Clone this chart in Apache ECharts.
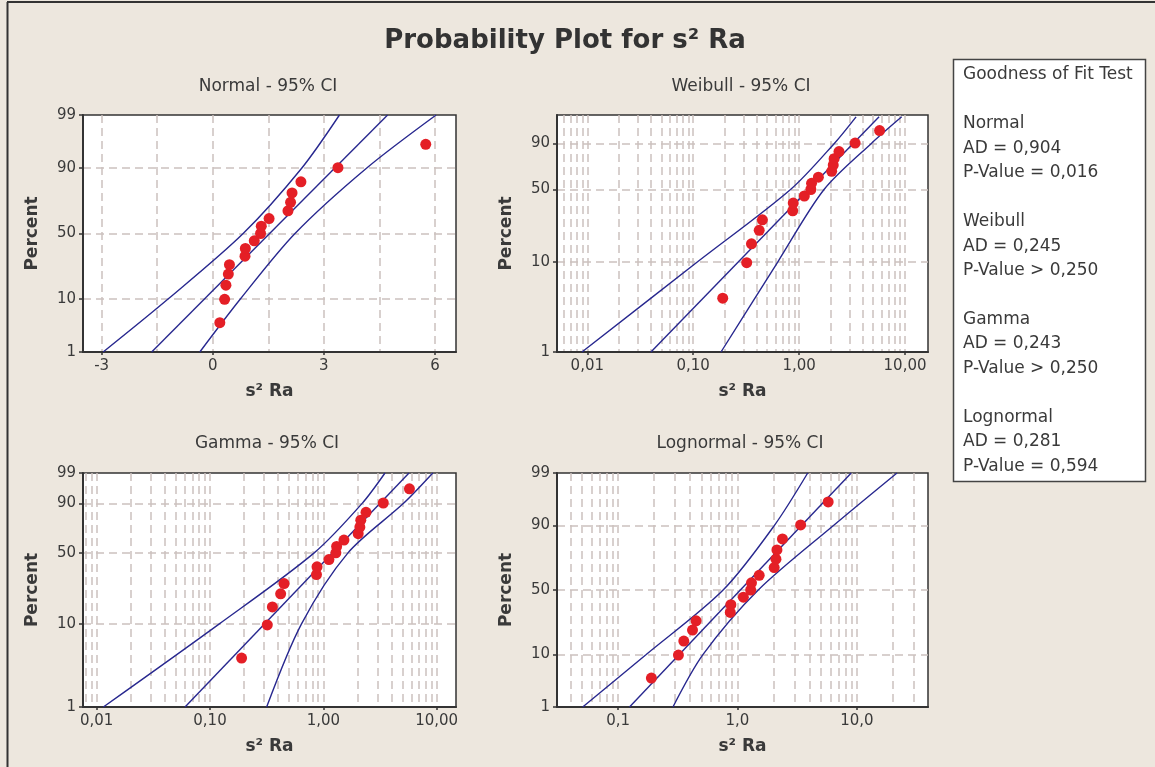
<!DOCTYPE html>
<html>
<head>
<meta charset="utf-8">
<script src="https://cdn.jsdelivr.net/npm/echarts@6/dist/echarts.min.js"></script>
<style>
  html, body { margin: 0; padding: 0; background: #ede7de; }
  #chart { width: 1155px; height: 767px; }
</style>
</head>
<body>
<div id="chart"></div>
<script>
// s² Ra observations (sorted) and the percent they are plotted at
const s2Ra = [0.19, 0.32, 0.355, 0.42, 0.45, 0.87, 0.88, 1.12, 1.29, 1.31, 1.52, 2.03, 2.10, 2.14, 2.38, 3.38, 5.75];
const pctPoints = [4.0, 9.8, 15.5, 21.3, 27.0, 32.8, 38.5, 44.3, 50.0, 55.7, 61.5, 67.2, 73.0, 78.7, 84.5, 90.2, 96.0];

// fitted line (at fitPct) and 95% CI bands (at ciPct)
const fitPct = [1, 99];
const ciPct = [1, 10, 50, 90, 99];

const normalFit = [-1.65, 4.72];
const normalUpper = [-2.96, -1.20, 0.82, 2.40, 3.42];
const normalLower = [-0.35, 0.75, 2.22, 4.15, 6.03];

const weibullFit = [0.0399, 5.69];
const weibullUpper = [0.0089, 0.11, 0.83, 2.15, 3.45];
const weibullLower = [0.183, 0.63, 1.72, 4.81, 9.3];

const gammaFit = [0.0602, 5.7];
const gammaUpper = [0.01145, 0.12, 0.83, 2.2, 3.5];
const gammaLower = [0.316, 0.64, 1.65, 5.1, 9.24];

const lognormalFit = [0.1246, 8.97];
const lognormalUpper = [0.0505, 0.172, 0.758, 2.034, 3.875];
const lognormalLower = [0.288, 0.515, 1.493, 6.37, 21.7];

// tick labels
const normalXTicks = [-3, 0, 3, 6];
const normalXTickText = ['-3', '0', '3', '6'];
const normalXGrid = [-3, -1.5, 0, 1.5, 3, 4.5, 6];
const logXTicks = [0.01, 0.1, 1, 10];
const logXTickText = ['0,01', '0,10', '1,00', '10,00'];
const lognormalXTicks = [0.1, 1, 10];
const lognormalXTickText = ['0,1', '1,0', '10,0'];
const yTicks = [1, 10, 50, 90, 99];
const weibullYTicks = [1, 10, 50, 90];
const yGrid = [10, 50, 90];

const gofText = [
  'Goodness of Fit Test', '',
  'Normal', 'AD = 0,904', 'P-Value = 0,016', '',
  'Weibull', 'AD = 0,245', 'P-Value > 0,250', '',
  'Gamma', 'AD = 0,243', 'P-Value > 0,250', '',
  'Lognormal', 'AD = 0,281', 'P-Value = 0,594'
];

// probability scales
function erf(x) {
  const s = x < 0 ? -1 : 1;
  x = Math.abs(x);
  const t = 1 / (1 + 0.3275911 * x);
  const y = 1 - (((((1.061405429 * t - 1.453152027) * t) + 1.421413741) * t - 0.284496736) * t + 0.254829592) * t * Math.exp(-x * x);
  return s * y;
}
function invert(cdf, lo, hi, target) {
  for (let i = 0; i < 200; i++) {
    const mid = (lo + hi) / 2;
    if (cdf(mid) < target) lo = mid; else hi = mid;
  }
  return (lo + hi) / 2;
}
const normCdf = z => 0.5 * (1 + erf(z / Math.SQRT2));
// gamma cdf, shape 1.5
const gammaCdf = x => erf(Math.sqrt(x)) - 2 * Math.sqrt(x / Math.PI) * Math.exp(-x);
const probNormal = p => invert(normCdf, -10, 10, p / 100);
const probWeibull = p => Math.log(-Math.log(1 - p / 100));
const probGamma = p => Math.log(invert(gammaCdf, 1e-9, 100, p / 100));

function logGrid(lo, hi) {
  const out = [];
  for (let d = -4; d <= 3; d++) {
    for (let k = 1; k <= 9; k++) {
      const v = k * Math.pow(10, d);
      if (v > lo && v < hi) out.push(v);
    }
  }
  return out;
}

const panels = [
  { title: 'Normal - 95% CI', box: { left: 83, top: 115, width: 373, height: 237 }, titlePos: [268, 87],
    log: false, prob: probNormal, xRange: [-3.504, 6.567], yTop: 99,
    xTicks: normalXTicks, xText: normalXTickText, xGrid: normalXGrid, yTicks: yTicks,
    fit: normalFit, upper: normalUpper, lower: normalLower },
  { title: 'Weibull - 95% CI', box: { left: 557, top: 115, width: 371, height: 237 }, titlePos: [741, 87],
    log: true, prob: probWeibull, xRange: [0.005176, 16.48], yTop: 99.2,
    xTicks: logXTicks, xText: logXTickText, xGrid: logGrid(0.005176, 16.48), yTicks: weibullYTicks,
    fit: weibullFit, upper: weibullUpper, lower: weibullLower },
  { title: 'Gamma - 95% CI', box: { left: 83, top: 473, width: 373, height: 234 }, titlePos: [267, 444],
    log: true, prob: probGamma, xRange: [0.007574, 14.81], yTop: 99,
    xTicks: logXTicks, xText: logXTickText, xGrid: logGrid(0.007574, 14.81), yTicks: yTicks,
    fit: gammaFit, upper: gammaUpper, lower: gammaLower },
  { title: 'Lognormal - 95% CI', box: { left: 557, top: 473, width: 371, height: 234 }, titlePos: [740, 444],
    log: true, prob: probNormal, xRange: [0.03076, 39.45], yTop: 99,
    xTicks: lognormalXTicks, xText: lognormalXTickText, xGrid: logGrid(0.03076, 39.45), yTicks: yTicks,
    fit: lognormalFit, upper: lognormalUpper, lower: lognormalLower }
];

const ink = '#3a3a3a';
const font = 'DejaVu Sans';
const gridLine = { color: '#cbc1bf', width: 1.5, type: [8, 5] };
const lineColor = '#28288f';

const option = {
  animation: false,
  backgroundColor: '#ede7de',
  grid: [], xAxis: [], yAxis: [], series: [], graphic: []
};

function findText(vals, texts, v) {
  for (let k = 0; k < vals.length; k++) {
    if (Math.abs(vals[k] - v) < 1e-6) return texts[k];
  }
  return '';
}

panels.forEach((pn, i) => {
  const tx = pn.log ? Math.log10 : (v => v);
  const ty = pn.prob;
  option.grid.push(Object.assign({ show: true, backgroundColor: '#fff', borderColor: '#333', borderWidth: 1.5 }, pn.box));

  const xMin = tx(pn.xRange[0]), xMax = tx(pn.xRange[1]);
  const yMin = ty(1), yMax = ty(pn.yTop);
  const xLabelVals = pn.xTicks.map(tx);
  const yLabelVals = pn.yTicks.map(ty);

  // main axes: line, ticks, labels, name
  option.xAxis.push({
    gridIndex: i, type: 'value', min: xMin, max: xMax, position: 'bottom',
    name: 's² Ra', nameLocation: 'middle', nameGap: 31,
    nameTextStyle: { fontFamily: font, fontWeight: 'bold', fontSize: 17, color: ink },
    axisLine: { onZero: false, lineStyle: { color: '#333', width: 2 } },
    axisTick: { show: true, length: 3, customValues: xLabelVals, lineStyle: { color: '#333', width: 1.5 } },
    axisLabel: { customValues: xLabelVals, margin: 7, fontFamily: font, fontSize: 15, color: ink,
      formatter: v => findText(xLabelVals, pn.xText, v) },
    splitLine: { show: false }
  });
  // grid-line axis
  option.xAxis.push({
    gridIndex: i, type: 'value', min: xMin, max: xMax, position: 'bottom',
    axisLine: { show: false }, axisTick: { show: false, customValues: pn.xGrid.map(tx) },
    axisLabel: { show: false }, splitLine: { show: true, lineStyle: gridLine }
  });

  option.yAxis.push({
    gridIndex: i, type: 'value', min: yMin, max: yMax, position: 'left',
    name: 'Percent', nameLocation: 'middle', nameGap: 42,
    nameTextStyle: { fontFamily: font, fontWeight: 'bold', fontSize: 17, color: ink },
    axisLine: { onZero: false, lineStyle: { color: '#333', width: 2 } },
    axisTick: { show: true, length: 4, customValues: yLabelVals, lineStyle: { color: '#333', width: 1.5 } },
    axisLabel: { customValues: yLabelVals, margin: 7, fontFamily: font, fontSize: 15, color: ink,
      formatter: v => findText(yLabelVals, pn.yTicks.map(String), v) },
    splitLine: { show: false }
  });
  option.yAxis.push({
    gridIndex: i, type: 'value', min: yMin, max: yMax, position: 'left',
    axisLine: { show: false }, axisTick: { show: false, customValues: yGrid.map(ty) },
    axisLabel: { show: false }, splitLine: { show: true, lineStyle: gridLine }
  });

  const xa = 2 * i, ya = 2 * i;
  const curve = (xs, ps) => xs.map((x, k) => [tx(x), ty(ps[k])]);
  const lineSeries = data => ({
    type: 'line', xAxisIndex: xa, yAxisIndex: ya, data: data, showSymbol: false, symbol: 'none',
    smooth: 0.3, silent: true, z: 3, lineStyle: { color: lineColor, width: 1.4 }
  });
  option.series.push(lineSeries(curve(pn.fit, fitPct)));
  option.series.push(lineSeries(curve(pn.upper, ciPct)));
  option.series.push(lineSeries(curve(pn.lower, ciPct)));
  option.series.push({
    type: 'scatter', xAxisIndex: xa, yAxisIndex: ya, z: 5, symbolSize: 11,
    itemStyle: { color: '#e41f26', opacity: 1 },
    data: s2Ra.map((v, k) => [tx(v), ty(pctPoints[k])])
  });

  option.graphic.push({
    type: 'text', x: pn.titlePos[0], y: pn.titlePos[1],
    style: { text: pn.title, font: '17px "DejaVu Sans"', fill: ink, align: 'center', verticalAlign: 'middle' }
  });
});

// frame, main title, goodness-of-fit box
option.graphic.push(
  { type: 'line', shape: { x1: 7, y1: 2, x2: 1155, y2: 2 }, style: { stroke: '#333', lineWidth: 2 } },
  { type: 'line', shape: { x1: 7.5, y1: 2, x2: 7.5, y2: 767 }, style: { stroke: '#333', lineWidth: 2 } },
  { type: 'text', x: 565, y: 41,
    style: { text: 'Probability Plot for s² Ra', font: 'bold 26px "DejaVu Sans"', fill: '#333', align: 'center', verticalAlign: 'middle' } },
  { type: 'rect', shape: { x: 953.5, y: 59.5, width: 192, height: 422 },
    style: { fill: '#fff', stroke: '#444', lineWidth: 1.5 } },
  { type: 'text', x: 963, y: 62.8,
    style: { text: gofText.join('\n'), font: '17px "DejaVu Sans"', fill: ink, lineHeight: 24.45, verticalAlign: 'top' } }
);

const chart = echarts.init(document.getElementById('chart'));
chart.setOption(option);
</script>
</body>
</html>
